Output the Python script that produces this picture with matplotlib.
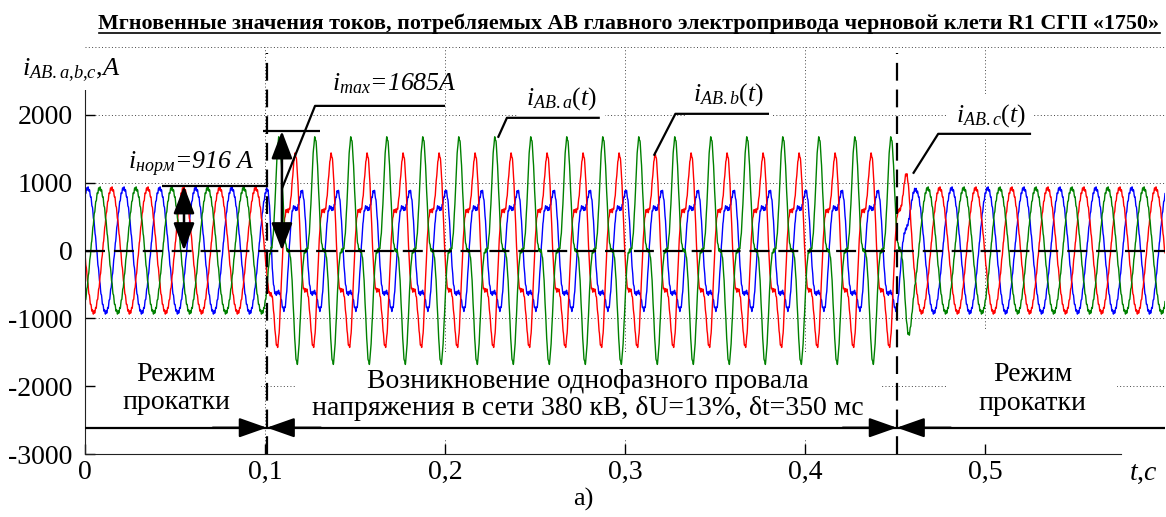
import numpy as np
import matplotlib
matplotlib.use("Agg")
import matplotlib.pyplot as plt
from matplotlib.lines import Line2D

plt.rcParams['font.family'] = ['Liberation Serif', 'DejaVu Serif']
plt.rcParams['mathtext.fontset'] = 'custom'
plt.rcParams['mathtext.rm'] = 'Liberation Serif'
plt.rcParams['mathtext.it'] = 'Liberation Serif:italic'
plt.rcParams['mathtext.bf'] = 'Liberation Serif:bold'

# ---------------- data ----------------
phase_names = ['a', 'b', 'c']
phase_colors = ['#008000', '#ff0000', '#0000ff']
freq_hz = 50.0
t_end = 0.6
t_fault_start = 0.101
t_fault_end = 0.451
i_norm = 916
i_max_peak = 1760
# normal rolling mode: amplitude and time of first positive peak (s)
normal_amp = [916, 916, 916]
normal_peak_t = [0.0082, 0.0148, 0.0015]
# voltage dip: fundamental amplitude, first peak time, 3rd-harmonic share
fault_amp = [1250, 1180, 860]
fault_peak_t = [0.0078, 0.0156, 0.0187]
fault_h3_cos = [0.33, 0.0, -0.2]
fault_h3_sin = [0.0, 0.30, 0.15]
# converter ripple: harmonic number and amplitude (A)
ripple_harmonic = 24
ripple_amp = 24
ramp_in = 0.003
ramp_out = 0.012

yticks = [-3000, -2000, -1000, 0, 1000, 2000]
ytick_labels = ['-3000', '-2000', '-1000', '0', '1000', '2000']
xticks = [0, 0.1, 0.2, 0.3, 0.4, 0.5]
xtick_labels = ['0', '0,1', '0,2', '0,3', '0,4', '0,5']
ygrid = [-2000, -1000, 1000, 2000, 3000]
xgrid = [0.1, 0.2, 0.3, 0.4, 0.5]

# ---------------- figure ----------------
W, H = 1166, 517
fig = plt.figure(figsize=(W / 100, H / 100), dpi=100)
ax = fig.add_axes([85 / W, 1 - 454 / H, 1080 / W, 407 / H])
ax.set_xlim(0, t_end)
ax.set_ylim(-3000, 3000)

t = np.linspace(0, t_end, 12001)
w_in = np.clip((t - t_fault_start) / ramp_in, 0, 1)
w_out = np.clip((t_fault_end + ramp_out - t) / ramp_out, 0, 1)
w = w_in * w_out

order = [2, 1, 0]
for k in order:
    th_n = 2 * np.pi * freq_hz * (t - normal_peak_t[k])
    normal = normal_amp[k] * np.cos(th_n)
    th_f = 2 * np.pi * freq_hz * (t - fault_peak_t[k])
    fault = fault_amp[k] * (np.cos(th_f) + fault_h3_cos[k] * np.cos(3 * th_f)
                            + fault_h3_sin[k] * np.sin(3 * th_f))
    ripple = ripple_amp * np.sin(ripple_harmonic * th_n)
    y = (1 - w) * normal + w * fault + ripple
    ax.plot(t, y, color=phase_colors[k], lw=1.0, zorder=2)

# grid
for gy in ygrid:
    ax.axhline(gy, color='#444444', lw=0.7, ls=(0, (1, 2.4)), zorder=0)
for gx in xgrid:
    ax.axvline(gx, color='#444444', lw=0.7, ls=(0, (1, 2.4)), zorder=0)

ax.axhline(0, color='k', lw=1.6, dashes=(9, 4), zorder=5)
for tv in (t_fault_start, t_fault_end):
    ax.axvline(tv, ymin=0, ymax=0.985, color='k', lw=1.6, dashes=(8, 4), zorder=5)

# spines and ticks
for s in ('top', 'right'):
    ax.spines[s].set_visible(False)
ax.spines['left'].set_bounds(-3000, 2470)
ax.spines['bottom'].set_bounds(0, 0.5756)
ax.spines['left'].set_color('#222222')
ax.spines['bottom'].set_color('#222222')
ax.set_yticks(yticks)
ax.set_yticklabels(ytick_labels)
ax.set_xticks(xticks)
ax.set_xticklabels(xtick_labels)
ax.tick_params(axis='both', direction='in', length=7, width=1, labelsize=20)
ax.tick_params(axis='y', pad=9)
ax.tick_params(axis='x', pad=4)

# bottom arrows
y_arr = -2612
ax.plot([0, t_end], [y_arr, y_arr], color='k', lw=1.6, zorder=6)
ahead = dict(arrowstyle='-|>,head_length=1.7,head_width=0.6', color='k', lw=1.6,
             shrinkA=0, shrinkB=0, mutation_scale=10)
for tv in (t_fault_start, t_fault_end):
    ax.annotate('', xy=(tv, y_arr), xytext=(tv - 0.03, y_arr), arrowprops=ahead, zorder=6)
    ax.annotate('', xy=(tv, y_arr), xytext=(tv + 0.03, y_arr), arrowprops=ahead, zorder=6)

# double arrows
dhead = dict(arrowstyle='<|-|>,head_length=1.7,head_width=0.65', color='k', lw=1.8,
             shrinkA=0, shrinkB=0, mutation_scale=10)
ax.annotate('', xy=(0.055, 950), xytext=(0.055, 0), arrowprops=dhead, zorder=6)
ax.annotate('', xy=(0.1094, i_max_peak), xytext=(0.1094, 0), arrowprops=dhead, zorder=6)

# leader lines
lk = dict(color='k', lw=1.6, zorder=6, solid_capstyle='butt')
ax.plot([0.0428, t_fault_start], [950, 950], **lk)
ax.plot([0.099, 0.1306], [i_max_peak, i_max_peak], **lk)
ax.plot([0.1094, 0.1278, 0.200], [912, 2132, 2132], **lk)
ax.plot([0.2294, 0.2344, 0.286], [1662, 1956, 1956], **lk)
ax.plot([0.316, 0.328, 0.380], [1397, 2015, 2015], **lk)
ax.plot([0.460, 0.474, 0.5256], [1132, 1720, 1720], **lk)

# annotation texts
ann = dict(fontsize=18.5, fontstyle='italic', va='baseline', ha='left', zorder=1)
ax.text(0.1372, 2366, r'$i_{max}$=1685A', **ann)
ax.text(0.0239, 1201, r'$i_{\mathit{норм}}$=916 A', **ann)
wb = dict(facecolor='white', edgecolor='none', pad=6)
ax.text(0.245, 2145, r'$i_{AB{.}a}(t)$', bbox=wb, **ann)
ax.text(0.3378, 2204, r'$i_{AB{.}b}(t)$', bbox=wb, **ann)
ax.text(0.484, 1895, r'$i_{AB{.}c}(t)$', bbox=wb, **ann)

ax.text(0.0506, -2035, 'Режим\nпрокатки', fontsize=20, ha='center', va='center',
        linespacing=1.2, zorder=1,
        bbox=dict(facecolor='white', edgecolor='none', pad=22))
ax.text(0.2794, -2130, 'Возникновение однофазного провала\nнапряжения в сети 380 кВ, δU=13%, δt=350 мс',
        fontsize=20, ha='center', va='center', linespacing=1.15, zorder=1,
        bbox=dict(facecolor='white', edgecolor='none', pad=12))
ax.text(0.5264, -2041, 'Режим\nпрокатки', fontsize=20, ha='center', va='center',
        linespacing=1.2, zorder=1,
        bbox=dict(facecolor='white', edgecolor='none', pad=22))

# axis labels
fig.text(22 / W, 1 - 75 / H, r'$i_{AB{.}a{,}b{,}c}{,}A$', fontsize=19, va='baseline', ha='left',
         bbox=dict(facecolor='white', edgecolor='none', pad=5))
fig.text(1129 / W, 1 - 480 / H, r'$t{,}c$', fontsize=20, va='baseline', ha='left')
fig.text(583 / W, 1 - 506 / H, 'а)', fontsize=19, va='baseline', ha='center')

title = fig.text(629 / W, 1 - 29 / H,
                 'Мгновенные значения токов, потребляемых АВ главного электропривода черновой клети R1 СГП «1750»',
                 fontsize=15.8, fontweight='bold', ha='center', va='baseline')
fig.canvas.draw()
bb = title.get_window_extent()
inv = fig.transFigure.inverted()
(x0, yy), (x1, _) = inv.transform([(bb.x0, bb.y0 + 1), (bb.x1, bb.y0)])
fig.add_artist(Line2D([x0, x1], [yy, yy], transform=fig.transFigure, color='k', lw=1.2))

fig.savefig('out.png', dpi=100)
